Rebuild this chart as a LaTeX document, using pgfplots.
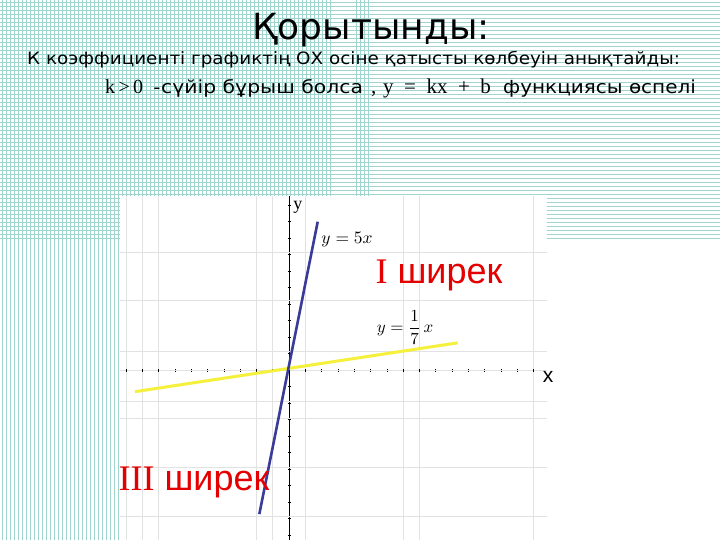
\documentclass[border=0pt]{standalone}
\usepackage{fontspec}
\usepackage{pgfplots}
\pgfplotsset{compat=1.18}
\setmainfont{Liberation Sans}
\newfontfamily\djv{DejaVu Sans}
\newfontfamily\tms{Liberation Serif}

\definecolor{bgline}{RGB}{160,212,206}
\definecolor{gridgray}{RGB}{226,226,226}
\definecolor{lineblue}{RGB}{58,58,152}
\definecolor{lineyellow}{RGB}{245,240,60}
\definecolor{labelred}{RGB}{228,0,0}

\begin{document}
\begin{tikzpicture}[x=1bp,y=1bp]
\path[use as bounding box, fill=white] (0,0) rectangle (720,540);

% ruled slide background (lines on pixel centres)
\foreach \y in {2.5,6.5,...,240}
  \draw[bgline, line width=1bp] (0,540-\y) -- (720,540-\y);
\foreach \x in {2.5,6.5,...,334}
  \draw[bgline, line width=1bp] (\x,0) -- (\x,540);
\foreach \x in {356.5,360.5,364.5,368.5}
  \draw[bgline, line width=1bp] (\x,344) -- (\x,540);

% white sheet of the graph
\fill[white] (120,0) rectangle (547,344);

% heading
\node[anchor=base, font=\djv\fontsize{36bp}{40bp}\selectfont] at (371,500) {Қорытынды:};
\node[anchor=base west, inner sep=0, xscale=1.08, font=\djv\fontsize{17bp}{20bp}\selectfont] at (27,475)
  {К коэффициенті графиктің ОХ осіне қатысты көлбеуін анықтайды:};
\node[anchor=base west, inner sep=0, font=\tms\fontsize{20bp}{24bp}\selectfont] at (105,446)
  {k\,>\,0\; -};
\node[anchor=base west, inner sep=0, xscale=1.13, font=\djv\fontsize{18bp}{22bp}\selectfont] at (161,446)
  {сүйір бұрыш болса};
\node[anchor=base west, inner sep=0, font=\tms\fontsize{21bp}{24bp}\selectfont] at (371,446) {,};
\node[anchor=base west, inner sep=0, font=\tms\fontsize{21bp}{24bp}\selectfont] at (383,446)
  {y\enspace=\enspace kx\enspace+\enspace b};
\node[anchor=base west, inner sep=0, xscale=1.11, font=\djv\fontsize{18bp}{22bp}\selectfont] at (503,446)
  {функциясы өспелі};

\begin{axis}[
  at={(120bp,0bp)}, anchor=south west,
  scale only axis, width=427bp, height=344bp,
  xmin=-10.37, xmax=15.83, ymin=-10.3, ymax=10.55,
  axis lines=middle,
  axis line style={-},
  x axis line style={gridgray},
  y axis line style={black, line width=0.9bp},
  xtick={-10,...,15}, ytick={-10,...,10},
  xticklabels={}, yticklabels={},
  tick style={black, line width=0.6bp},
  major tick length=3bp,
  extra x ticks={-10,-9,-8,-2,-1,1,7,8,15},
  extra y ticks={7.15,4.2,1.15,-1.9,-2.9,-5.9,-8.9},
  extra x tick labels={}, extra y tick labels={},
  extra x tick style={grid=major, major grid style={gridgray, line width=0.8bp}},
  extra y tick style={grid=major, major grid style={gridgray, line width=0.8bp}, major tick length=0pt},
  clip=false,
]
\addplot[lineyellow, line width=3bp] coordinates {(-9.45,-1.31) (10.35,1.65)};
\addplot[lineblue, line width=2.6bp] coordinates {(-1.82,-8.73) (1.76,8.99)};

\node[font=\tms\fontsize{18bp}{20bp}\selectfont] at (axis cs:0.55,9.85) {y};
\node[font=\fontsize{21bp}{24bp}\selectfont] at (axis cs:15.9,-0.42) {x};
\node[scale=1.75] at (axis cs:3.56,7.88) {$y=5x$};
\node[scale=1.7] at (axis cs:7.12,2.6) {$\displaystyle y=\frac{1}{7}\,x$};
\node[labelred, font=\fontsize{36bp}{38bp}\selectfont] at (axis cs:9.2,5.76) {{\tms I} ширек};
\node[labelred, font=\fontsize{36bp}{38bp}\selectfont] at (axis cs:-5.83,-6.8) {{\tms III} ширек};
\end{axis}
\end{tikzpicture}
\end{document}
